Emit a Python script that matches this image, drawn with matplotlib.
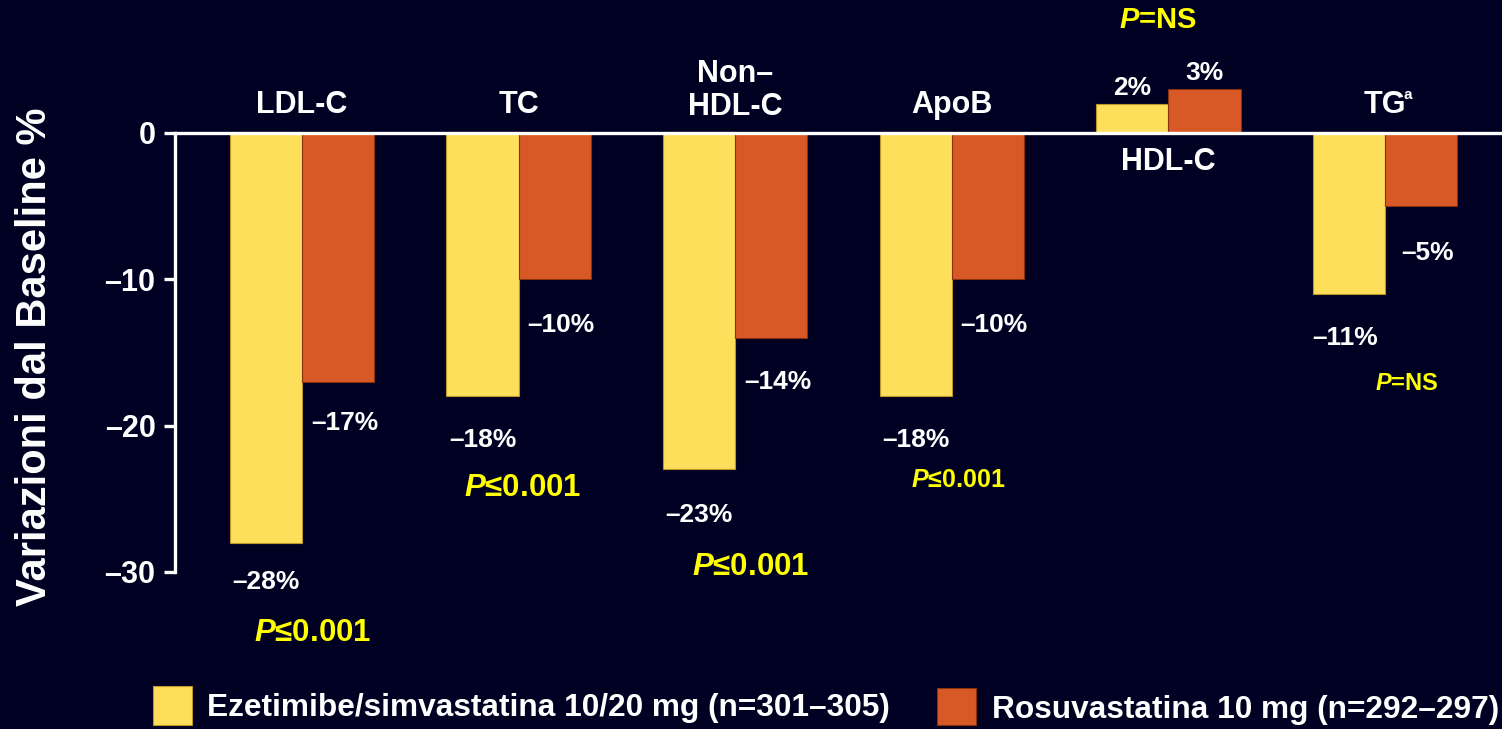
import matplotlib
matplotlib.use('Agg')
import matplotlib.pyplot as plt
from matplotlib.patches import Rectangle

plt.rcParams['font.family'] = ['Liberation Sans', 'DejaVu Sans']
plt.rcParams['font.weight'] = 'bold'
plt.rcParams['mathtext.fontset'] = 'custom'
plt.rcParams['mathtext.it'] = 'Liberation Sans:bold:italic'
plt.rcParams['mathtext.rm'] = 'Liberation Sans:bold'

categories = ['LDL-C', 'TC', 'Non–\nHDL-C', 'ApoB', 'HDL-C', 'TG']
eze_sim = [-28, -18, -23, -18, 2, -11]
rosuva = [-17, -10, -14, -10, 3, -5]
p_values = ['≤0.001', '≤0.001', '≤0.001', '≤0.001', '=NS', '=NS']
series_names = ['Ezetimibe/simvastatina 10/20 mg (n=301–305)',
                'Rosuvastatina 10 mg (n=292–297)']
yticks = [0, -10, -20, -30]

bg = '#000022'
yellow = '#FEDF5C'
orange = '#D85926'
ptext = '#FFFF00'

fig = plt.figure(figsize=(15.02, 7.29), dpi=100, facecolor=bg)
ax = fig.add_axes([175 / 1502, 0, 1 - 175 / 1502, 1])
ax.set_facecolor(bg)
ax.set_xlim(-0.586, 5.54)
ax.set_ylim(-40.74, 9.09)

w = 0.333
x = range(len(categories))
ax.bar([i - w / 2 for i in x], eze_sim, w, color=yellow, edgecolor='#B8962A', linewidth=0.8)
ax.bar([i + w / 2 for i in x], rosuva, w, color=orange, edgecolor='#8A3210', linewidth=0.8)

ax.axhline(0, color='white', lw=2.4, zorder=3)

for s in ['top', 'right', 'bottom']:
    ax.spines[s].set_visible(False)
ax.spines['left'].set_color('white')
ax.spines['left'].set_linewidth(2.4)
ax.spines['left'].set_bounds(-30, 0)
ax.set_xticks([])
ax.set_yticks(yticks)
ax.set_yticklabels([str(t).replace('-', '–') for t in yticks], fontsize=22, color='white')
ax.tick_params(axis='y', colors='white', length=8, width=2.4, pad=6, labelcolor='white')

# category labels
lab_y = [1.9, 1.9, 1.9, 1.9, -2.0, 1.9]
for i, c in enumerate(categories):
    va = 'center' if i != 2 else 'bottom'
    yy = lab_y[i] if i != 2 else 0.75
    ax.text(i, yy, c, ha='center', va=va, fontsize=22, color='white',
            linespacing=1.15)
ax.text(5.085, 2.6, 'a', fontsize=11, color='white', ha='left', va='center')

# value labels
val_off = [-2.7, -3.0, -3.1, -3.0, 1.1, -3.0]
ros_off = [-2.8, -3.1, -3.0, -3.1, 1.1, -3.2]
for i in x:
    e = eze_sim[i]
    r = rosuva[i]
    ax.text(i - w / 2 - 0.02 * (i == 5), e + val_off[i], f'{e}%'.replace('-', '–'),
            ha='center', va='center', fontsize=19, color='white')
    ax.text(i + w / 2 + 0.03 * (r < 0), r + ros_off[i], f'{r}%'.replace('-', '–'),
            ha='center', va='center', fontsize=19, color='white')

# P values
p_pos = [(0.05, -34.2, 22.5), (1.02, -24.3, 22.5), (2.07, -29.7, 22.5),
         (3.03, -23.7, 18), (3.95, 7.7, 21), (5.1, -17.1, 17)]
for i, (px, py, fs) in enumerate(p_pos):
    ax.text(px, py, r'$P$' + p_values[i], ha='center', va='center',
            fontsize=fs, color=ptext)

# y label
fig.text(35 / 1502, 1 - 357 / 729, 'Variazioni dal Baseline %', rotation=90,
         ha='center', va='center', fontsize=30, color='white')

# legend
fig.patches.append(Rectangle((153 / 1502, 1 - 725 / 729), 39 / 1502, 39 / 729,
                             transform=fig.transFigure, facecolor=yellow,
                             edgecolor='#B8962A', lw=0.8))
fig.patches.append(Rectangle((937 / 1502, 1 - 725 / 729), 39 / 1502, 37 / 729,
                             transform=fig.transFigure, facecolor=orange,
                             edgecolor='#8A3210', lw=0.8))
fig.text(207 / 1502, 1 - 708 / 729, series_names[0], ha='left', va='center',
         fontsize=22.8, color='white')
fig.text(992 / 1502, 1 - 710 / 729, series_names[1], ha='left', va='center',
         fontsize=22.8, color='white')

fig.savefig('out.png', dpi=100, facecolor=bg)
